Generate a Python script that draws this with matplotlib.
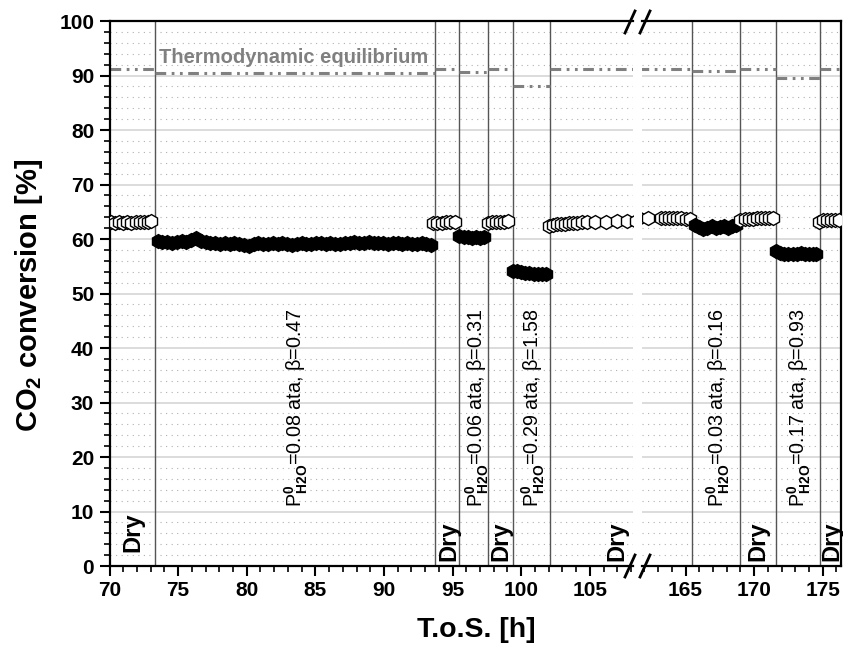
import matplotlib
matplotlib.use('Agg')
import matplotlib.pyplot as plt
from matplotlib.ticker import MultipleLocator
from matplotlib.lines import Line2D

plt.rcParams['font.family'] = ['Liberation Sans', 'DejaVu Sans']
plt.rcParams['font.weight'] = 'bold'
plt.rcParams['mathtext.fontset'] = 'custom'
plt.rcParams['mathtext.rm'] = 'Liberation Sans'
plt.rcParams['mathtext.it'] = 'Liberation Sans:italic'
plt.rcParams['mathtext.bf'] = 'Liberation Sans:bold'

# ---------------- data ----------------
dry1_x = [70.1, 70.4, 70.7, 71.0, 71.3, 71.6, 71.9, 72.2, 72.5, 72.8, 73.05]
dry1_y = [63.1, 63.0, 63.1, 63.0, 63.1, 63.0, 63.1, 63.2, 63.1, 63.2, 63.3]

wet1_x = [73.50, 73.85, 74.20, 74.55, 74.90, 75.25, 75.60, 75.95, 76.30, 76.65,
          77.00, 77.35, 77.70, 78.05, 78.40, 78.75, 79.10, 79.45, 79.80, 80.15,
          80.50, 80.85, 81.20, 81.55, 81.90, 82.25, 82.60, 82.95, 83.30, 83.65,
          84.00, 84.35, 84.70, 85.05, 85.40, 85.75, 86.10, 86.45, 86.80, 87.15,
          87.50, 87.85, 88.20, 88.55, 88.90, 89.25, 89.60, 89.95, 90.30, 90.65,
          91.00, 91.35, 91.70, 92.05, 92.40, 92.75, 93.10, 93.45]
wet1_y = [59.6, 59.4, 59.5, 59.3, 59.4, 59.6, 59.5, 59.8, 60.1, 59.7,
          59.4, 59.2, 59.3, 59.1, 59.2, 59.0, 59.2, 59.1, 58.9, 58.8,
          59.0, 59.2, 59.0, 59.1, 59.3, 59.0, 59.2, 59.1, 58.9, 59.1,
          59.3, 59.1, 59.0, 59.2, 59.3, 59.1, 59.2, 59.0, 59.1, 59.3,
          59.2, 59.4, 59.3, 59.2, 59.4, 59.3, 59.2, 59.3, 59.1, 59.2,
          59.3, 59.1, 59.2, 59.0, 59.1, 59.2, 59.0, 58.9]

dry2_x = [93.6, 93.9, 94.2, 94.5, 94.8, 95.15]
dry2_y = [62.9, 63.0, 63.0, 63.1, 63.1, 63.2]

wet2_x = [95.5, 95.8, 96.1, 96.4, 96.7, 97.0, 97.3]
wet2_y = [60.6, 60.4, 60.3, 60.2, 60.3, 60.2, 60.3]

dry3_x = [97.55, 97.85, 98.15, 98.45, 98.75, 99.05]
dry3_y = [63.0, 63.1, 63.1, 63.2, 63.2, 63.3]

wet3_x = [99.4, 99.7, 100.0, 100.3, 100.6, 100.9, 101.2, 101.5, 101.8]
wet3_y = [54.2, 54.1, 53.9, 53.8, 53.7, 53.6, 53.5, 53.5, 53.6]

dry4_x = [102.0, 102.3, 102.6, 102.9, 103.2, 103.5, 103.8, 104.1, 104.4, 104.8,
          105.4, 106.2, 107.0, 107.7, 108.4]
dry4_y = [62.4, 62.6, 62.7, 62.8, 62.8, 62.9, 63.0, 63.0, 63.1, 63.1,
          63.2, 63.2, 63.3, 63.3, 63.3]

dry5_x = [161.6, 162.3, 163.2, 163.5, 163.8, 164.1, 164.4, 164.7, 165.0, 165.3]
dry5_y = [63.8, 63.9, 63.8, 63.9, 63.9, 63.8, 63.9, 63.8, 63.7, 63.6]

wet4_x = [165.7, 166.0, 166.3, 166.6, 166.9, 167.2, 167.5, 167.8, 168.1, 168.4, 168.7]
wet4_y = [62.6, 62.2, 61.9, 62.1, 62.3, 62.0, 62.2, 62.4, 62.1, 62.3, 62.5]

dry6_x = [169.0, 169.3, 169.6, 169.9, 170.2, 170.5, 170.8, 171.1, 171.4]
dry6_y = [63.5, 63.6, 63.7, 63.7, 63.8, 63.8, 63.8, 63.9, 63.9]

wet5_x = [171.6, 171.9, 172.2, 172.5, 172.8, 173.1, 173.4, 173.7, 174.0, 174.3, 174.5]
wet5_y = [57.8, 57.5, 57.3, 57.2, 57.3, 57.2, 57.4, 57.3, 57.2, 57.3, 57.2]

dry7_x = [174.7, 175.0, 175.3, 175.6, 175.9, 176.2]
dry7_y = [63.2, 63.4, 63.4, 63.5, 63.5, 63.5]

# phase boundaries (h)
bounds_left = [73.3, 93.7, 95.5, 97.6, 99.4, 102.1]
bounds_right = [165.5, 169.0, 171.6, 174.8]

# thermodynamic equilibrium per phase: start, end, value
eq_left_start = [70.0, 73.3, 93.7, 95.5, 97.6, 99.4, 102.1]
eq_left_end = [73.3, 93.7, 95.5, 97.6, 99.4, 102.1, 108.5]
eq_left_val = [91.2, 90.5, 91.2, 90.7, 91.2, 88.0, 91.2]
eq_right_start = [161.5, 165.5, 169.0, 171.6, 174.8]
eq_right_end = [165.5, 169.0, 171.6, 174.8, 176.5]
eq_right_val = [91.2, 90.9, 91.2, 89.6, 91.2]

dry_label_x = [71.7, 94.7, 98.5, 107.0, 170.3, 175.7]
wet_label_x = [83.6, 96.8, 100.9, 167.4, 173.3]
wet_p = ['0.08', '0.06', '0.29', '0.03', '0.17']
wet_beta = ['0.47', '0.31', '1.58', '0.16', '0.93']

left_xlim = (70.0, 108.15)
right_xlim = (161.83, 176.33)

# ---------------- figure ----------------
fig = plt.figure(figsize=(8.43, 6.53), dpi=100)
axL = fig.add_axes([0.1299, 0.1332, 0.621, 0.8346])
axR = fig.add_axes([0.7616, 0.1332, 0.236, 0.8346])

for ax in (axL, axR):
    ax.set_ylim(0, 100)
    ax.yaxis.set_major_locator(MultipleLocator(10))
    ax.yaxis.set_minor_locator(MultipleLocator(2))
    ax.xaxis.set_major_locator(MultipleLocator(5))
    ax.xaxis.set_minor_locator(MultipleLocator(1))
    ax.grid(True, axis='y', which='major', color='#d6d6d6', lw=1.2, zorder=0)
    ax.grid(True, axis='y', which='minor', color='#b0b0b0', lw=0.8,
            linestyle=(0, (1, 4)), zorder=0)
    ax.set_axisbelow(True)
    ax.tick_params(axis='both', which='major', direction='out', length=7,
                   width=1.5, labelsize=15, pad=4)
    ax.tick_params(axis='both', which='minor', direction='out', length=4,
                   width=1.2)
    for sp in ax.spines.values():
        sp.set_linewidth(1.6)

axL.set_xlim(*left_xlim)
axR.set_xlim(*right_xlim)
axL.spines['right'].set_visible(False)
axR.spines['left'].set_visible(False)
axR.tick_params(axis='y', which='both', left=False, labelleft=False)

# boundaries
for b in bounds_left:
    axL.axvline(b, color='#555555', lw=1.0, zorder=1)
for b in bounds_right:
    axR.axvline(b, color='#555555', lw=1.0, zorder=1)

# equilibrium
eq_style = dict(color='#808080', lw=2.2, dashes=(3.5, 1.8, 0.9, 1.8, 0.9, 1.8), zorder=2)
for s, e, v in zip(eq_left_start, eq_left_end, eq_left_val):
    axL.plot([s, e], [v, v], **eq_style)
for s, e, v in zip(eq_right_start, eq_right_end, eq_right_val):
    axR.plot([s, e], [v, v], **eq_style)

axL.text(73.6, 93.3, 'Thermodynamic equilibrium', color='#808080',
         fontsize=14.5, fontweight='bold', ha='left', va='center', zorder=3)

# markers
open_kw = dict(linestyle='none', marker='h', ms=10, mfc='white', mec='black', mew=1.0, zorder=4)
fill_kw = dict(linestyle='none', marker='h', ms=10, mfc='black', mec='black', mew=1.0, zorder=4)
axL.plot(dry1_x, dry1_y, **open_kw)
axL.plot(wet1_x, wet1_y, **fill_kw)
axL.plot(dry2_x, dry2_y, **open_kw)
axL.plot(wet2_x, wet2_y, **fill_kw)
axL.plot(dry3_x, dry3_y, **open_kw)
axL.plot(wet3_x, wet3_y, **fill_kw)
axL.plot(dry4_x, dry4_y, **open_kw)
axR.plot(dry5_x, dry5_y, **open_kw)
axR.plot(wet4_x, wet4_y, **fill_kw)
axR.plot(dry6_x, dry6_y, **open_kw)
axR.plot(wet5_x, wet5_y, **fill_kw)
axR.plot(dry7_x, dry7_y, **open_kw)

# phase labels
for i, x in enumerate(dry_label_x):
    ax = axL if x < 120 else axR
    ax.text(x, 2.5 if i == 0 else 1.0, 'Dry', rotation=90, fontsize=17,
            fontweight='bold', ha='center', va='bottom', zorder=5)

for x, p, b in zip(wet_label_x, wet_p, wet_beta):
    ax = axL if x < 120 else axR
    ax.text(x, 10.8, r'P$^{0}_{\mathrm{H2O}}$=' + p + ' ata, β=' + b, rotation=90,
            fontsize=14.2, fontweight='normal', ha='center', va='bottom', zorder=5)

# axis labels
fig.text(0.034, 0.547, r'CO$_\mathbf{2}$ conversion [%]', rotation=90,
         fontsize=21, fontweight='bold', ha='center', va='center')
fig.text(0.565, 0.035, 'T.o.S. [h]', fontsize=20.5, fontweight='bold',
         ha='center', va='center')

# break marks
W, H = 843.0, 653.0
for yc in (653 - 22, 653 - 566):
    for xc in (630, 645):
        fig.add_artist(Line2D([(xc - 5) / W, (xc + 5) / W],
                              [(yc - 11) / H, (yc + 11) / H],
                              transform=fig.transFigure, color='black', lw=2.0,
                              clip_on=False))

fig.savefig('out.png', dpi=100)
